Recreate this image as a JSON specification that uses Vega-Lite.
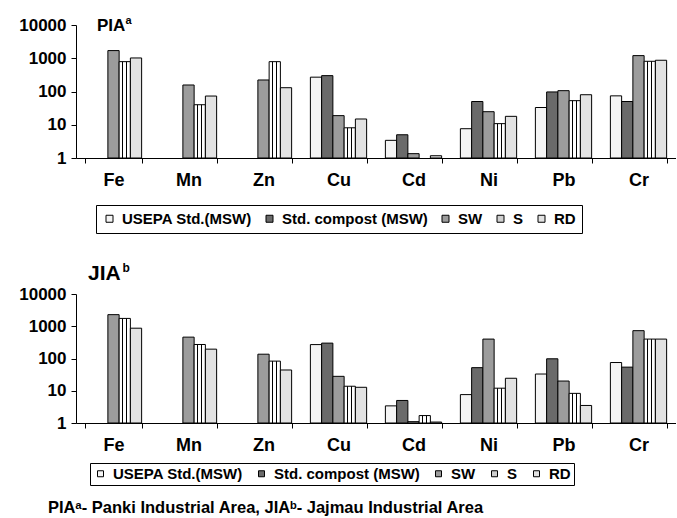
{
  "$schema": "https://vega.github.io/schema/vega-lite/v6.json",
  "padding": {"left": 5, "right": 0, "top": 15, "bottom": 0},
  "config": {"view": {"stroke": null}, "font": "Liberation Sans", "concat": {"spacing": 28}},
  "title": {"text": "PIAᵃ- Panki Industrial Area, JIAᵇ- Jajmau Industrial Area", "orient": "bottom", "anchor": "start", "fontSize": 16.5, "fontWeight": "bold", "font": "Liberation Sans", "color": "black", "dx": 43, "offset": 14},
  "datasets": {
    "pia": [
      {"metal": "Fe", "series": "SW", "value": 1700},
      {"metal": "Fe", "series": "S", "value": 790},
      {"metal": "Fe", "series": "RD", "value": 1020},
      {"metal": "Mn", "series": "SW", "value": 157},
      {"metal": "Mn", "series": "S", "value": 40},
      {"metal": "Mn", "series": "RD", "value": 73},
      {"metal": "Zn", "series": "SW", "value": 222},
      {"metal": "Zn", "series": "S", "value": 790},
      {"metal": "Zn", "series": "RD", "value": 130},
      {"metal": "Cu", "series": "USEPA Std.(MSW)", "value": 270},
      {"metal": "Cu", "series": "Std. compost (MSW)", "value": 300},
      {"metal": "Cu", "series": "SW", "value": 18.8},
      {"metal": "Cu", "series": "S", "value": 8.1},
      {"metal": "Cu", "series": "RD", "value": 14.9},
      {"metal": "Cd", "series": "USEPA Std.(MSW)", "value": 3.4},
      {"metal": "Cd", "series": "Std. compost (MSW)", "value": 5},
      {"metal": "Cd", "series": "SW", "value": 1.35},
      {"metal": "Cd", "series": "RD", "value": 1.17},
      {"metal": "Ni", "series": "USEPA Std.(MSW)", "value": 7.6},
      {"metal": "Ni", "series": "Std. compost (MSW)", "value": 50},
      {"metal": "Ni", "series": "SW", "value": 24.7},
      {"metal": "Ni", "series": "S", "value": 10.8},
      {"metal": "Ni", "series": "RD", "value": 17.9},
      {"metal": "Pb", "series": "USEPA Std.(MSW)", "value": 33},
      {"metal": "Pb", "series": "Std. compost (MSW)", "value": 97},
      {"metal": "Pb", "series": "SW", "value": 106},
      {"metal": "Pb", "series": "S", "value": 53},
      {"metal": "Pb", "series": "RD", "value": 80},
      {"metal": "Cr", "series": "USEPA Std.(MSW)", "value": 74},
      {"metal": "Cr", "series": "Std. compost (MSW)", "value": 50},
      {"metal": "Cr", "series": "SW", "value": 1200},
      {"metal": "Cr", "series": "S", "value": 810},
      {"metal": "Cr", "series": "RD", "value": 870}
    ],
    "jia": [
      {"metal": "Fe", "series": "SW", "value": 2290},
      {"metal": "Fe", "series": "S", "value": 1750},
      {"metal": "Fe", "series": "RD", "value": 870},
      {"metal": "Mn", "series": "SW", "value": 460},
      {"metal": "Mn", "series": "S", "value": 272},
      {"metal": "Mn", "series": "RD", "value": 195},
      {"metal": "Zn", "series": "SW", "value": 136},
      {"metal": "Zn", "series": "S", "value": 83},
      {"metal": "Zn", "series": "RD", "value": 44},
      {"metal": "Cu", "series": "USEPA Std.(MSW)", "value": 270},
      {"metal": "Cu", "series": "Std. compost (MSW)", "value": 300},
      {"metal": "Cu", "series": "SW", "value": 28},
      {"metal": "Cu", "series": "S", "value": 13.8},
      {"metal": "Cu", "series": "RD", "value": 12.8},
      {"metal": "Cd", "series": "USEPA Std.(MSW)", "value": 3.4},
      {"metal": "Cd", "series": "Std. compost (MSW)", "value": 5},
      {"metal": "Cd", "series": "SW", "value": 1.1},
      {"metal": "Cd", "series": "S", "value": 1.7},
      {"metal": "Cd", "series": "RD", "value": 1.07},
      {"metal": "Ni", "series": "USEPA Std.(MSW)", "value": 7.6},
      {"metal": "Ni", "series": "Std. compost (MSW)", "value": 52},
      {"metal": "Ni", "series": "SW", "value": 400},
      {"metal": "Ni", "series": "S", "value": 12},
      {"metal": "Ni", "series": "RD", "value": 24.4},
      {"metal": "Pb", "series": "USEPA Std.(MSW)", "value": 33},
      {"metal": "Pb", "series": "Std. compost (MSW)", "value": 98},
      {"metal": "Pb", "series": "SW", "value": 20},
      {"metal": "Pb", "series": "S", "value": 8.3},
      {"metal": "Pb", "series": "RD", "value": 3.5},
      {"metal": "Cr", "series": "USEPA Std.(MSW)", "value": 75},
      {"metal": "Cr", "series": "Std. compost (MSW)", "value": 54},
      {"metal": "Cr", "series": "SW", "value": 730},
      {"metal": "Cr", "series": "S", "value": 400},
      {"metal": "Cr", "series": "RD", "value": 400}
    ]
  },
  "resolve": {"scale": {"fill": "independent", "x": "independent", "y": "independent"}, "legend": {"fill": "independent"}},
  "vconcat": [
    {
      "width": 600,
      "height": 133,
      "layer": [
        {
          "data": {"name": "pia"},
          "mark": {"type": "bar", "stroke": "black", "strokeWidth": 1},
          "encoding": {
            "x": {"field": "metal", "type": "nominal", "sort": ["Fe", "Mn", "Zn", "Cu", "Cd", "Ni", "Pb", "Cr"], "scale": {"domain": ["Fe", "Mn", "Zn", "Cu", "Cd", "Ni", "Pb", "Cr"], "paddingInner": 0.25, "paddingOuter": 0.125},
              "axis": {"title": null, "labelAngle": 0, "labelFontSize": 18, "labelFontWeight": "bold", "labelColor": "black", "labelPadding": 8, "tickBand": "extent", "tickSize": 5, "tickColor": "black", "domainColor": "black"}},
            "xOffset": {"field": "series", "type": "nominal", "scale": {"domain": ["USEPA Std.(MSW)", "Std. compost (MSW)", "SW", "S", "RD"], "paddingInner": 0, "paddingOuter": 0}},
            "y": {"field": "value", "type": "quantitative", "scale": {"type": "log", "domain": [1, 10000], "nice": false},
              "axis": {"title": null, "values": [1, 10, 100, 1000, 10000], "format": "d", "labelFontSize": 17, "labelFontWeight": "bold", "labelColor": "black", "labelPadding": 5, "tickSize": 5, "tickColor": "black", "domainColor": "black", "grid": false, "minExtent": 71, "maxExtent": 71}},
            "y2": {"datum": 1},
            "fill": {"field": "series", "type": "nominal",
              "scale": {"domain": ["USEPA Std.(MSW)", "Std. compost (MSW)", "SW", "S", "RD"], "range": ["#f4f4f4", "#6a6a6a", "#9c9c9c", "#cfcfcf", "#e2e2e2"]},
              "condition": {"test": "datum.series === 'S'", "value": {"gradient": "linear", "x1": 0, "y1": 0, "x2": 1, "y2": 0, "stops": [{"offset": 0, "color": "white"}, {"offset": 0.28, "color": "white"}, {"offset": 0.28, "color": "black"}, {"offset": 0.38, "color": "black"}, {"offset": 0.38, "color": "white"}, {"offset": 0.6, "color": "white"}, {"offset": 0.6, "color": "black"}, {"offset": 0.7, "color": "black"}, {"offset": 0.7, "color": "white"}, {"offset": 1, "color": "white"}]}},
              "legend": {"title": null, "orient": "none", "legendX": 20, "legendY": 180, "direction": "horizontal", "columns": 5, "strokeColor": "black", "fillColor": "white", "padding": 6, "labelFont": "Liberation Sans", "labelFontSize": 15, "labelFontWeight": "bold", "labelColor": "black", "symbolType": "square", "symbolSize": 49, "symbolStrokeColor": "black", "symbolStrokeWidth": 1, "labelOffset": 5, "columnPadding": 10}}
          }
        },
        {
          "data": {"values": [{"t": "PIA"}]},
          "mark": {"type": "text", "align": "left", "baseline": "middle", "fontSize": 17, "fontWeight": "bold", "color": "black", "dx": -16.5, "dy": 1},
          "encoding": {"x": {"datum": "Fe"}, "y": {"datum": 10000}, "text": {"field": "t"}}
        },
        {
          "data": {"values": [{"t": "a"}]},
          "mark": {"type": "text", "align": "left", "baseline": "middle", "fontSize": 11, "fontWeight": "bold", "color": "black", "dx": 12, "dy": -4},
          "encoding": {"x": {"datum": "Fe"}, "y": {"datum": 10000}, "text": {"field": "t"}}
        }
      ]
    },
    {
      "width": 600,
      "height": 129,
      "layer": [
        {
          "data": {"name": "jia"},
          "mark": {"type": "bar", "stroke": "black", "strokeWidth": 1},
          "encoding": {
            "x": {"field": "metal", "type": "nominal", "sort": ["Fe", "Mn", "Zn", "Cu", "Cd", "Ni", "Pb", "Cr"], "scale": {"domain": ["Fe", "Mn", "Zn", "Cu", "Cd", "Ni", "Pb", "Cr"], "paddingInner": 0.25, "paddingOuter": 0.125},
              "axis": {"title": null, "labelAngle": 0, "labelFontSize": 18, "labelFontWeight": "bold", "labelColor": "black", "labelPadding": 8, "tickBand": "extent", "tickSize": 5, "tickColor": "black", "domainColor": "black"}},
            "xOffset": {"field": "series", "type": "nominal", "scale": {"domain": ["USEPA Std.(MSW)", "Std. compost (MSW)", "SW", "S", "RD"], "paddingInner": 0, "paddingOuter": 0}},
            "y": {"field": "value", "type": "quantitative", "scale": {"type": "log", "domain": [1, 10000], "nice": false},
              "axis": {"title": null, "values": [1, 10, 100, 1000, 10000], "format": "d", "labelFontSize": 17, "labelFontWeight": "bold", "labelColor": "black", "labelPadding": 5, "tickSize": 5, "tickColor": "black", "domainColor": "black", "grid": false, "minExtent": 70, "maxExtent": 70}},
            "y2": {"datum": 1},
            "fill": {"field": "series", "type": "nominal",
              "scale": {"domain": ["USEPA Std.(MSW)", "Std. compost (MSW)", "SW", "S", "RD"], "range": ["#f4f4f4", "#6a6a6a", "#9c9c9c", "#cfcfcf", "#e2e2e2"]},
              "condition": {"test": "datum.series === 'S'", "value": {"gradient": "linear", "x1": 0, "y1": 0, "x2": 1, "y2": 0, "stops": [{"offset": 0, "color": "white"}, {"offset": 0.28, "color": "white"}, {"offset": 0.28, "color": "black"}, {"offset": 0.38, "color": "black"}, {"offset": 0.38, "color": "white"}, {"offset": 0.6, "color": "white"}, {"offset": 0.6, "color": "black"}, {"offset": 0.7, "color": "black"}, {"offset": 0.7, "color": "white"}, {"offset": 1, "color": "white"}]}},
              "legend": {"title": null, "orient": "none", "legendX": 14, "legendY": 169, "direction": "horizontal", "columns": 5, "strokeColor": "black", "fillColor": "white", "padding": 3, "labelFont": "Liberation Sans", "labelFontSize": 15, "labelFontWeight": "bold", "labelColor": "black", "symbolType": "square", "symbolSize": 36, "symbolStrokeColor": "black", "symbolStrokeWidth": 1, "labelOffset": 5, "columnPadding": 11}}
          }
        },
        {
          "data": {"values": [{"t": "JIA"}]},
          "mark": {"type": "text", "align": "left", "baseline": "middle", "fontSize": 21, "fontWeight": "bold", "color": "black", "dx": -25.5, "dy": -20.5},
          "encoding": {"x": {"datum": "Fe"}, "y": {"datum": 10000}, "text": {"field": "t"}}
        },
        {
          "data": {"values": [{"t": "b"}]},
          "mark": {"type": "text", "align": "left", "baseline": "middle", "fontSize": 12, "fontWeight": "bold", "color": "black", "dx": 9, "dy": -26},
          "encoding": {"x": {"datum": "Fe"}, "y": {"datum": 10000}, "text": {"field": "t"}}
        }
      ]
    }
  ]
}
